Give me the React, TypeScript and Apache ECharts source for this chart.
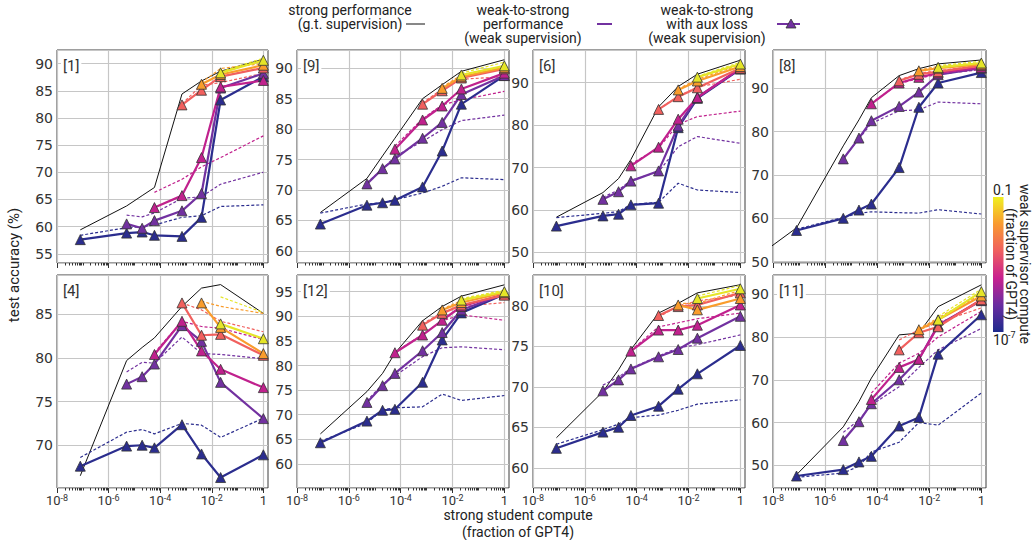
import React, { useEffect, useRef } from 'react';
import * as echarts from 'echarts';

// strong student compute (fraction of GPT4) where points are measured
const STUDENT_COMPUTE = [8e-8, 5e-6, 2e-5, 6e-5, 7e-4, 4e-3, 2.2e-2, 1];
// index in STUDENT_COMPUTE where each weak supervisor's curve starts
const SUPERVISOR_START = [0, 1, 3, 4, 5, 6];
const SUPERVISOR_COLORS = ['#2b2d8e', '#7231a0', '#c0218d', '#f1605e', '#f99c2c', '#e5e527'];

const PANEL_NAMES = ['[1]', '[9]', '[6]', '[8]', '[4]', '[12]', '[10]', '[11]'];
const Y_MIN = [53.3, 58.0, 47.5, 49.7, 65.1, 55.1, 57.5, 44.7];
const Y_MAX = [92.5, 93.0, 97.7, 98.8, 89.5, 98.4, 83.8, 94.5];
const Y_STEP = [5, 5, 10, 10, 5, 5, 5, 10];

// ---- [1]
const STRONG_1 = [59.4, 63.8, 65.7, 67.2, 84.4, 86.8, 88.6, 90.8];
const AUX_1 = [
  [57.6, 58.8, 59.0, 58.4, 58.2, 61.7, 83.3, 87.6],
  [60.5, 59.7, 61.1, 62.9, 66.1, 85.5, 88.2],
  [63.5, 65.7, 72.7, 85.7, 86.9],
  [82.4, 85.1, 87.6, 89.2],
  [86.2, 88.0, 89.7],
  [88.3, 90.6],
];
const W2S_1 = [
  [58.4, 59.8, 60.0, 60.3, 61.7, 62.0, 63.7, 64.0],
  [62.1, 61.8, 62.5, 65.2, 65.5, 67.8, 70.0],
  [66.3, 68.7, 71.0, 72.7, 76.7],
  [82.6, 86.0, 86.5, 88.2],
  [86.5, 89.1, 90.0],
  [88.5, 91.0],
];
// ---- [9]
const STRONG_9 = [66.3, 71.9, 75.6, 78.5, 85.0, 87.3, 89.5, 91.4];
const AUX_9 = [
  [64.4, 67.5, 67.9, 68.3, 70.5, 76.4, 84.1, 88.8],
  [71.0, 73.5, 75.1, 78.5, 81.1, 85.7, 88.8],
  [76.7, 81.5, 83.8, 86.6, 89.2],
  [84.1, 86.3, 88.4, 89.9],
  [86.7, 88.6, 90.1],
  [88.9, 90.4],
];
const W2S_9 = [
  [66.2, 67.7, 67.9, 68.4, 69.5, 70.6, 72.0, 71.7],
  [71.2, 73.4, 75.5, 78.0, 79.9, 81.4, 82.3],
  [77.2, 81.7, 84.0, 84.8, 86.2],
  [84.3, 86.6, 88.2, 88.6],
  [86.9, 88.9, 90.4],
  [89.2, 91.0],
];
// ---- [6]
const STRONG_6 = [58.3, 64.1, 67.4, 71.9, 84.3, 89.1, 92.0, 95.3];
const AUX_6 = [
  [56.2, 58.6, 59.0, 61.2, 61.6, 79.4, 86.3, 93.2],
  [62.5, 64.3, 66.8, 69.2, 79.8, 86.6, 93.3],
  [70.4, 74.8, 81.4, 86.5, 93.4],
  [83.7, 86.7, 88.8, 93.4],
  [88.3, 90.4, 93.8],
  [91.3, 94.4],
];
const W2S_6 = [
  [58.2, 59.2, 59.6, 61.3, 61.8, 66.3, 64.7, 64.1],
  [63.0, 64.7, 67.0, 69.0, 74.9, 77.3, 75.7],
  [70.8, 74.6, 80.2, 82.0, 83.3],
  [83.7, 86.8, 89.0, 90.8],
  [88.5, 90.8, 94.2],
  [91.5, 94.8],
];
// ---- [8]
const STRONG_8 = [57.8, 76.7, 82.7, 87.8, 92.9, 94.5, 95.6, 96.5];
const STRONG_8_LEAD = [1.35e-9, 50.0];
const AUX_8 = [
  [57.2, 60.0, 61.9, 63.3, 71.7, 85.6, 91.2, 93.6],
  [73.7, 78.5, 82.5, 85.8, 89.1, 93.1, 94.6],
  [86.4, 91.2, 92.5, 93.5, 94.8],
  [91.7, 93.2, 93.8, 95.2],
  [94.0, 94.6, 95.5],
  [94.8, 95.8],
];
const W2S_8 = [
  [57.5, 60.2, 61.2, 61.5, 61.3, 61.2, 62.0, 61.0],
  [73.9, 78.3, 81.9, 84.8, 85.0, 86.8, 86.4],
  [86.6, 91.0, 92.3, 93.2, 94.3],
  [91.9, 93.4, 94.0, 95.3],
  [94.2, 95.0, 95.8],
  [95.2, 96.2],
];
// ---- [4]
const STRONG_4 = [66.5, 79.7, 81.2, 82.3, 85.9, 88.0, 88.4, 85.1];
const AUX_4 = [
  [67.6, 69.9, 70.0, 69.7, 72.35, 69.0, 66.3, 68.9],
  [77.0, 77.85, 79.3, 83.7, 81.9, 77.2, 73.05],
  [80.4, 84.2, 80.8, 78.7, 76.6],
  [86.3, 82.6, 82.7, 80.3],
  [86.3, 83.5, 80.5],
  [83.9, 82.2],
];
const W2S_4 = [
  [68.6, 71.5, 71.8, 71.3, 72.5, 72.3, 70.9, 73.1],
  [78.4, 79.5, 79.4, 82.4, 80.5, 80.4, 79.9],
  [80.6, 84.2, 83.6, 83.4, 82.1],
  [86.3, 85.5, 84.2, 83.0],
  [86.5, 85.9, 85.1],
  [87.0, 85.2],
];
// ---- [12]
const STRONG_12 = [66.1, 74.7, 78.4, 82.5, 89.1, 92.0, 94.1, 96.4];
const AUX_12 = [
  [64.3, 68.7, 70.9, 71.1, 76.6, 85.2, 90.7, 94.5],
  [72.5, 75.9, 78.4, 83.0, 86.7, 91.3, 94.5],
  [82.6, 86.2, 89.2, 92.0, 94.5],
  [88.2, 90.6, 92.3, 94.3],
  [91.3, 92.8, 94.8],
  [93.3, 95.0],
];
const W2S_12 = [
  [64.6, 68.3, 71.0, 71.4, 71.6, 74.2, 72.9, 73.9],
  [72.8, 76.2, 77.9, 81.8, 83.6, 83.8, 83.2],
  [82.7, 86.3, 89.1, 90.3, 89.2],
  [88.5, 90.8, 92.0, 92.8],
  [91.5, 93.2, 95.0],
  [93.6, 95.3],
];
// ---- [10]
const STRONG_10 = [63.7, 69.4, 72.1, 74.6, 79.1, 80.3, 81.6, 82.6];
const AUX_10 = [
  [62.4, 64.4, 65.0, 66.45, 67.6, 69.7, 71.6, 75.1],
  [69.5, 70.85, 72.2, 73.7, 74.6, 76.0, 78.7],
  [74.4, 77.0, 77.0, 77.6, 80.1],
  [78.8, 79.9, 80.1, 81.6],
  [80.1, 79.5, 80.9],
  [80.9, 82.1],
];
const W2S_10 = [
  [62.9, 64.7, 65.4, 66.2, 66.5, 67.1, 67.85, 68.4],
  [70.2, 71.2, 72.3, 73.8, 74.8, 75.2, 76.4],
  [74.5, 77.4, 77.9, 78.4, 79.1],
  [78.6, 80.0, 80.6, 81.3],
  [80.3, 80.3, 81.9],
  [81.2, 82.5],
];
// ---- [11]
const STRONG_11 = [47.8, 59.0, 64.9, 70.4, 80.5, 80.9, 87.1, 92.2];
const AUX_11 = [
  [47.5, 49.0, 50.8, 52.1, 59.2, 61.2, 76.0, 85.2],
  [55.8, 60.2, 64.4, 70.0, 74.8, 82.8, 88.5],
  [65.4, 72.9, 74.8, 82.6, 88.7],
  [77.0, 81.0, 82.4, 88.7],
  [81.7, 84.0, 89.6],
  [84.0, 90.6],
];
const W2S_11 = [
  [47.2, 48.2, 49.8, 53.1, 55.4, 60.0, 59.4, 66.9],
  [57.7, 60.6, 64.1, 68.4, 72.9, 77.0, 82.0],
  [66.9, 73.9, 76.2, 80.0, 86.0],
  [79.3, 81.7, 83.4, 86.8],
  [81.9, 84.5, 90.0],
  [84.8, 91.2],
];

const PANELS = [
  { strong: STRONG_1, aux: AUX_1, w2s: W2S_1, lead: null },
  { strong: STRONG_9, aux: AUX_9, w2s: W2S_9, lead: null },
  { strong: STRONG_6, aux: AUX_6, w2s: W2S_6, lead: null },
  { strong: STRONG_8, aux: AUX_8, w2s: W2S_8, lead: STRONG_8_LEAD },
  { strong: STRONG_4, aux: AUX_4, w2s: W2S_4, lead: null },
  { strong: STRONG_12, aux: AUX_12, w2s: W2S_12, lead: null },
  { strong: STRONG_10, aux: AUX_10, w2s: W2S_10, lead: null },
  { strong: STRONG_11, aux: AUX_11, w2s: W2S_11, lead: null },
];

// layout
const GRID_LEFT = [57, 297, 533, 773];
const GRID_W = [211, 212, 212, 213];
const GRID_TOP = [50, 275];
const GRID_H = 213;
const X_MIN_EXP = -8;
const X_MAX_EXP = 0.18;

const lg = (v: number) => Math.log10(v);

function buildOption() {
  const grids: any[] = [];
  const xAxes: any[] = [];
  const yAxes: any[] = [];
  const series: any[] = [];
  const graphics: any[] = [];

  const minorTicks: number[] = [];
  for (let d = -8; d <= 0; d++) {
    for (let m = 1; m < 10; m++) {
      const v = d + Math.log10(m);
      if (v <= X_MAX_EXP + 1e-9) minorTicks.push(v);
    }
  }

  PANELS.forEach((p, i) => {
    const row = Math.floor(i / 4);
    const col = i % 4;
    const step = Y_STEP[i];
    grids.push({
      left: GRID_LEFT[col], top: GRID_TOP[row], width: GRID_W[col], height: GRID_H,
      show: true, borderColor: '#3c3c3c', borderWidth: 1, backgroundColor: 'rgba(0,0,0,0)',
    });
    xAxes.push({
      type: 'value', gridIndex: i, position: 'bottom',
      min: X_MIN_EXP, max: X_MAX_EXP, interval: 2,
      axisLine: { show: false },
      axisTick: { show: true, length: 5, customValues: [-8, -6, -4, -2, 0], lineStyle: { color: '#333' } },
      axisLabel: {
        show: row === 1, margin: 5, color: '#333', fontSize: 13, fontFamily: 'Roboto', lineHeight: 15,
        formatter: (v: number) => {
          const n = Math.round(v);
          if (Math.abs(v - n) > 1e-6 || n % 2 !== 0) return '';
          return n === 0 ? '1' : `10{s|${n}}`;
        },
        rich: { s: { fontSize: 9, fontFamily: 'Roboto', color: '#333', verticalAlign: 'top' } },
      },
      splitLine: { show: true, lineStyle: { color: '#c6c6c6', width: 1.2 } },
    });
    xAxes.push({
      type: 'value', gridIndex: i, position: 'bottom',
      min: X_MIN_EXP, max: X_MAX_EXP,
      axisLine: { show: false }, axisLabel: { show: false }, splitLine: { show: false },
      axisTick: { show: true, length: 2.5, customValues: minorTicks, lineStyle: { color: '#333' } },
    });
    yAxes.push({
      type: 'value', gridIndex: i, min: Y_MIN[i], max: Y_MAX[i],
      minInterval: step, maxInterval: step,
      axisLine: { show: false }, axisTick: { show: false },
      axisLabel: {
        margin: 4, color: '#333', fontSize: 14, fontFamily: 'DejaVu Sans',
        formatter: (v: number) => {
          const r = v / step;
          return Math.abs(r - Math.round(r)) < 1e-6 ? String(Math.round(v)) : '';
        },
      },
      splitLine: { show: true, lineStyle: { color: '#c6c6c6', width: 1.2 } },
    });

    const strongData = p.strong.map((v, k) => [lg(STUDENT_COMPUTE[k]), v]);
    if (p.lead) strongData.unshift([lg(p.lead[0]), p.lead[1]]);
    series.push({
      type: 'line', xAxisIndex: 2 * i, yAxisIndex: i, data: strongData,
      symbol: 'none', lineStyle: { color: '#111', width: 1 }, clip: !p.lead, silent: true, z: 2,
    });
    SUPERVISOR_COLORS.forEach((c, s) => {
      const start = SUPERVISOR_START[s];
      const w = p.w2s[s];
      series.push({
        type: 'line', xAxisIndex: 2 * i, yAxisIndex: i,
        data: w.map((v, k) => [lg(STUDENT_COMPUTE[start + k]), v]),
        symbol: 'none', lineStyle: { color: c, width: 1.2, type: [3, 2] }, silent: true, z: 3,
      });
      const a = p.aux[s];
      series.push({
        type: 'line', xAxisIndex: 2 * i, yAxisIndex: i,
        data: a.map((v, k) => [lg(STUDENT_COMPUTE[start + k]), v]),
        symbol: 'triangle', symbolSize: 10, showSymbol: true,
        lineStyle: { color: c, width: 2.2 },
        itemStyle: { color: c, borderColor: '#333', borderWidth: 0.8 },
        silent: true, z: 4,
      });
    });

    graphics.push({
      type: 'text', x: GRID_LEFT[col] + 4, y: GRID_TOP[row] + 7, z: 10,
      style: {
        text: PANEL_NAMES[i], font: '15px Roboto', fill: '#333', textAlign: 'left', textVerticalAlign: 'top',
        backgroundColor: '#fff', padding: [1, 2, 1, 2],
      },
    });
  });

  // legend
  const legendFont = '14px Roboto';
  graphics.push(
    { type: 'text', x: 350, y: 3, style: { text: 'strong performance\n(g.t. supervision)', font: legendFont, lineHeight: 14, fill: '#222', textAlign: 'center', textVerticalAlign: 'top' } },
    { type: 'line', shape: { x1: 406, y1: 24, x2: 425, y2: 24 }, style: { stroke: '#111', lineWidth: 1 } },
    { type: 'text', x: 523, y: 3, style: { text: 'weak-to-strong\nperformance\n(weak supervision)', font: legendFont, lineHeight: 14, fill: '#222', textAlign: 'center', textVerticalAlign: 'top' } },
    { type: 'line', shape: { x1: 597, y1: 24, x2: 612, y2: 24 }, style: { stroke: '#7231a0', lineWidth: 2 } },
    { type: 'text', x: 707, y: 3, style: { text: 'weak-to-strong\nwith aux loss\n(weak supervision)', font: legendFont, lineHeight: 14, fill: '#222', textAlign: 'center', textVerticalAlign: 'top' } },
    { type: 'line', shape: { x1: 777, y1: 24, x2: 800, y2: 24 }, style: { stroke: '#7231a0', lineWidth: 2 } },
    { type: 'polygon', shape: { points: [[791, 19], [786, 28], [796, 28]] }, style: { fill: '#7231a0', stroke: '#333', lineWidth: 0.8 } },
  );

  // axis titles
  graphics.push(
    { type: 'text', x: 14, y: 265, rotation: Math.PI / 2, style: { text: 'test accuracy (%)', font: '15px Roboto', fill: '#222', textAlign: 'center', textVerticalAlign: 'middle' } },
    { type: 'text', x: 518, y: 506, style: { text: 'strong student compute\n(fraction of GPT4)', font: '14px Roboto', lineHeight: 17, fill: '#222', textAlign: 'center', textVerticalAlign: 'top' } },
  );

  // colorbar
  graphics.push(
    {
      type: 'rect', shape: { x: 993, y: 197, width: 10.5, height: 135 },
      style: {
        fill: {
          type: 'linear', x: 0, y: 0, x2: 0, y2: 1,
          colorStops: [
            { offset: 0, color: '#f0f021' },
            { offset: 0.2, color: '#f99a30' },
            { offset: 0.4, color: '#ef5f5f' },
            { offset: 0.6, color: '#c8208f' },
            { offset: 0.8, color: '#6a2ca0' },
            { offset: 1, color: '#1e2a8c' },
          ],
        },
      },
    },
    { type: 'text', x: 993, y: 190, style: { text: '0.1', font: '14px Roboto', fill: '#222', textAlign: 'left', textVerticalAlign: 'middle' } },
    { type: 'text', x: 993, y: 340, style: { text: '10', font: '14px Roboto', fill: '#222', textAlign: 'left', textVerticalAlign: 'middle' } },
    { type: 'text', x: 1008, y: 335, style: { text: '-7', font: '9px Roboto', fill: '#222', textAlign: 'left', textVerticalAlign: 'middle' } },
    { type: 'text', x: 1018, y: 264, rotation: -Math.PI / 2, style: { text: 'weak supervisor compute\n(fraction of GPT4)', font: '14px Roboto', lineHeight: 14, fill: '#222', textAlign: 'center', textVerticalAlign: 'middle' } },
  );

  return {
    animation: false,
    grid: grids,
    xAxis: xAxes,
    yAxis: yAxes,
    series,
    graphic: { elements: graphics },
  };
}

export default function App() {
  const ref = useRef<HTMLDivElement>(null);
  useEffect(() => {
    if (!ref.current) return;
    const chart = echarts.init(ref.current, undefined, { renderer: 'svg' });
    chart.setOption(buildOption() as any);
    return () => chart.dispose();
  }, []);
  return (
    <div
      ref={ref}
      style={{ position: 'absolute', left: 0, top: 0, width: 1033, height: 540, background: '#fff' }}
    />
  );
}
